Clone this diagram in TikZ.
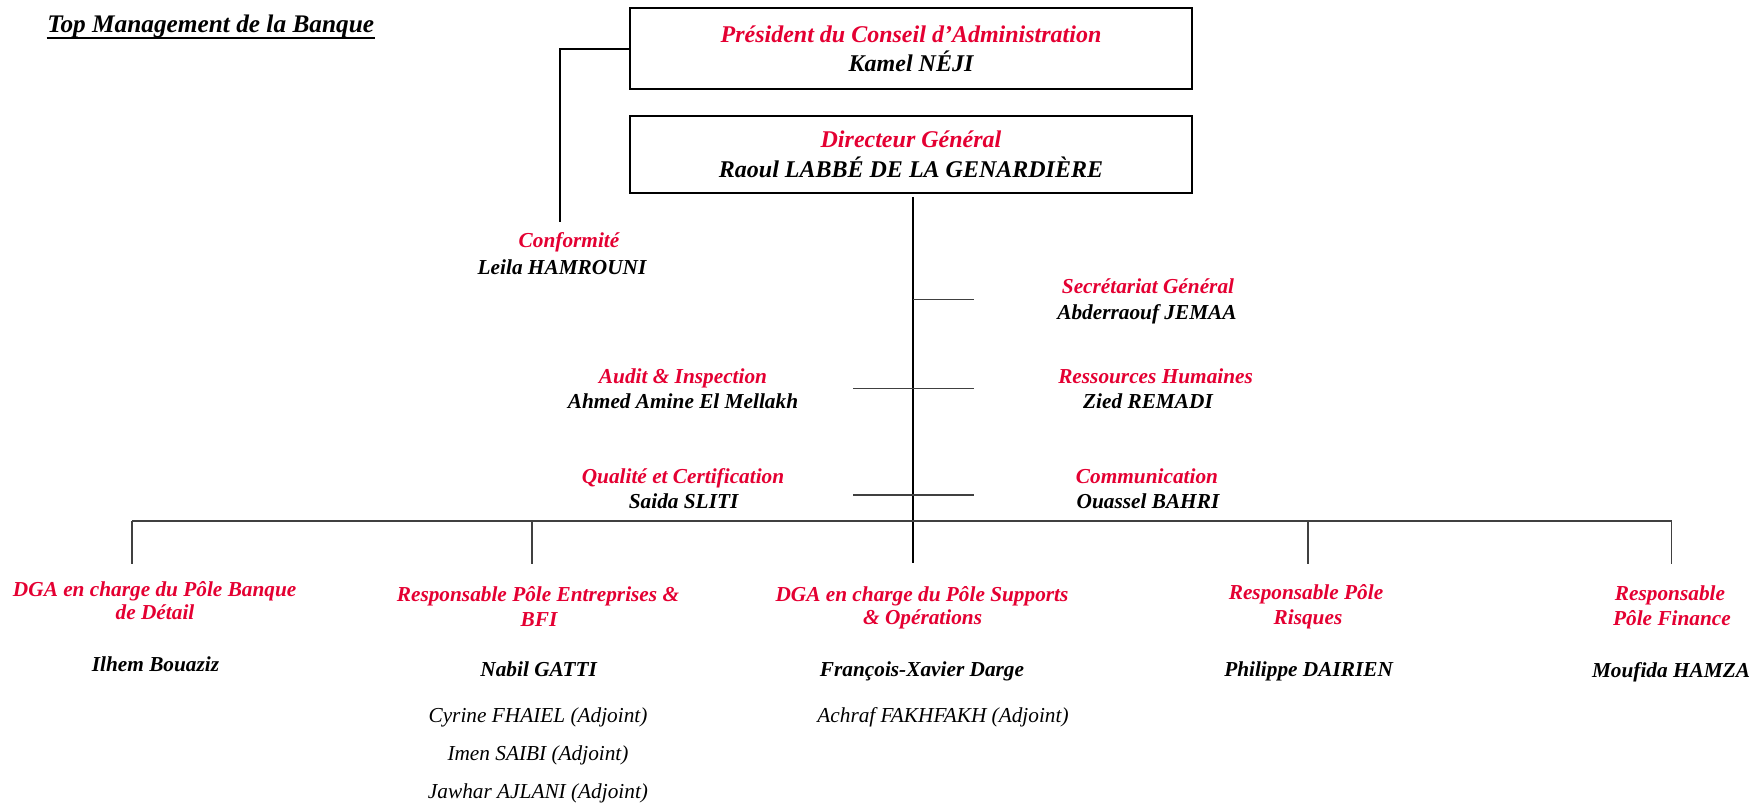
\documentclass[tikz,border=0pt]{standalone}
\usepackage{fontspec}
\setmainfont{Liberation Serif}
\usepackage{tikz}
\definecolor{rougeBNA}{RGB}{228,0,50}
\def\cadretaille{\fontsize{6.83}{8.1}\selectfont}
\def\textetaille{\fontsize{6.06}{7.3}\selectfont}
\tikzset{
	cadre/.style={draw, line width=0.57pt, minimum width=5.62cm, minimum height=0.81cm, inner sep=0pt, align=center, font=\cadretaille\bfseries\itshape},
	fonction/.style={anchor=base, inner sep=0pt, text=rougeBNA, font=\textetaille\bfseries\itshape},
	nom/.style={anchor=base, inner sep=0pt, font=\textetaille\bfseries\itshape},
	adjoint/.style={anchor=base, inner sep=0pt, font=\textetaille\itshape},
	lien/.style={line width=0.45pt, color=black!75}
}

\begin{document}
\begin{tikzpicture}
		%%%%% START %%%%%
		\useasboundingbox (0, 0) rectangle (17.54, -8.03);
		
		\node[anchor=base west, inner sep=0pt, font=\fontsize{7.2}{8.6}\selectfont\bfseries\itshape] (titre) at (0.467, -0.323) {Top Management de la Banque};
		\draw[line width=0.57pt] ([yshift=-1.5pt]titre.base west) -- ([yshift=-1.5pt]titre.base east);
		
		\node[cadre, minimum height=0.81cm] (pca) at (9.11, -0.488) {\textcolor{rougeBNA}{Président du Conseil d’Administration}\\Kamel NÉJI};
		\node[cadre, minimum height=0.775cm, font=\fontsize{6.83}{8.5}\selectfont\bfseries\itshape] (dg) at (9.11, -1.544) {\textcolor{rougeBNA}{Directeur Général}\\Raoul LABBÉ DE LA GENARDIÈRE};
		
		% conformite rattachee au president
		\coordinate (conf-haut) at (5.60, -2.217);
		\draw[line width=0.45pt] (pca.west) -| (conf-haut);
		\node[fonction] (conf-f) at (5.69, -2.48) {Conformité};
		\node[nom] (conf-n) at (5.62, -2.75) {Leila HAMROUNI};
		
		% tronc du directeur general
		\coordinate (tronc-haut) at (9.13, -1.97);
		\coordinate (tronc-bas) at (9.13, -5.63);
		\draw[line width=0.35pt] (tronc-haut) -- (tronc-bas);
		\draw[lien] (9.13, -2.993) -- (9.735, -2.993);
		\foreach \y in {-3.883, -4.95}
			\draw[lien] (8.53, \y) -- (9.735, \y);
		
		\node[fonction] (sg-f) at (11.48, -2.933) {Secrétariat Général};
		\node[nom] (sg-n) at (11.47, -3.193) {Abderraouf JEMAA};
		\node[fonction] (rh-f) at (11.556, -3.833) {Ressources Humaines};
		\node[nom] (rh-n) at (11.48, -4.083) {Zied REMADI};
		\node[fonction] (com-f) at (11.47, -4.833) {Communication};
		\node[nom] (com-n) at (11.48, -5.083) {Ouassel BAHRI};
		
		\node[fonction] (audit-f) at (6.83, -3.833) {Audit \& Inspection};
		\node[nom] (audit-n) at (6.83, -4.083) {Ahmed Amine El Mellakh};
		\node[fonction] (qual-f) at (6.83, -4.833) {Qualité et Certification};
		\node[nom] (qual-n) at (6.836, -5.083) {Saida SLITI};
		
		% barre des poles
		\coordinate (barre-g) at (1.32, -5.207);
		\coordinate (barre-d) at (16.715, -5.207);
		\draw[line width=0.5pt, color=black!75] (barre-g) -- (barre-d);
		\foreach \x in {1.32, 5.32, 13.08, 16.715}
			\draw[lien] (\x, -5.207) -- (\x, -5.64);
		
		\node[fonction] (banque-f1) at (1.547, -5.967) {DGA en charge du Pôle Banque};
		\node[fonction] (banque-f2) at (1.55, -6.20) {de Détail};
		\node[nom] (banque-n) at (1.555, -6.717) {Ilhem Bouaziz};
		
		\node[fonction] (entr-f1) at (5.38, -6.017) {Responsable Pôle Entreprises \&};
		\node[fonction] (entr-f2) at (5.39, -6.267) {BFI};
		\node[nom] (entr-n) at (5.387, -6.767) {Nabil GATTI};
		\node[adjoint] (entr-a1) at (5.38, -7.23) {Cyrine FHAIEL (Adjoint)};
		\node[adjoint] (entr-a2) at (5.38, -7.61) {Imen SAIBI (Adjoint)};
		\node[adjoint] (entr-a3) at (5.38, -7.99) {Jawhar AJLANI (Adjoint)};
		
		\node[fonction] (supp-f1) at (9.22, -6.017) {DGA en charge du Pôle Supports};
		\node[fonction] (supp-f2) at (9.226, -6.25) {\& Opérations};
		\node[nom] (supp-n) at (9.22, -6.767) {François-Xavier Darge};
		\node[adjoint] (supp-a1) at (9.43, -7.23) {Achraf FAKHFAKH (Adjoint)};
		
		\node[fonction] (risq-f1) at (13.06, -6.00) {Responsable Pôle};
		\node[fonction] (risq-f2) at (13.08, -6.25) {Risques};
		\node[nom] (risq-n) at (13.086, -6.767) {Philippe DAIRIEN};
		
		\node[fonction] (fin-f1) at (16.70, -6.01) {Responsable};
		\node[fonction] (fin-f2) at (16.72, -6.26) {Pôle Finance};
		\node[nom] (fin-n) at (16.71, -6.777) {Moufida HAMZA};
		
		%%%%% END %%%%%
	\end{tikzpicture}
\end{document}
